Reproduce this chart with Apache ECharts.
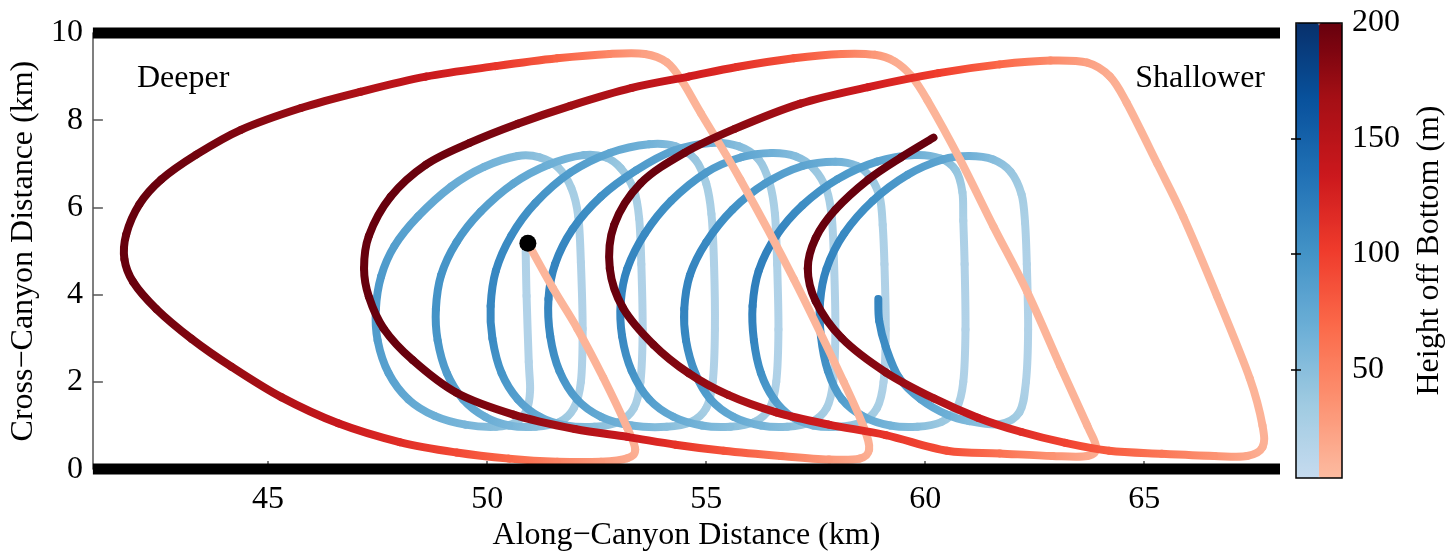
<!DOCTYPE html>
<html><head><meta charset="utf-8">
<script src="https://cdn.jsdelivr.net/npm/echarts@6/dist/echarts.min.js"></script>
<style>html,body{margin:0;padding:0;background:#fff}#c{width:1451px;height:557px}</style>
</head><body><div id="c"></div>
<script>
// ---------- data (km, km, m) ----------
const redX = [50.93,51.5,52.06,52.65,53.2,53.38,53.2,52.6,51.6,50.5,49.3,48.0,46.6,45.3,44.16,43.25,42.45,41.92,41.72,41.76,42.06,42.56,43.36,44.38,45.75,47.1,48.6,50.2,51.6,52.8,53.6,54.1,54.45,54.88,55.78,57.0,58.14,58.6,58.72,58.5,57.8,56.7,55.4,54.3,53.2,52.0,50.6,49.3,48.3,47.64,47.3,47.19,47.3,47.8,48.6,49.6,50.7,51.9,53.3,54.6,55.7,57.0,58.1,58.85,59.3,59.68,60.05,60.8,61.56,62.33,63.08,63.7,63.9,63.7,62.9,61.7,60.5,59.1,57.8,56.6,55.5,54.6,53.8,53.1,52.8,52.9,53.5,54.5,55.65,57.15,58.7,60.3,61.7,62.86,63.7,64.22,64.6,65.3,65.89,66.66,67.41,67.7,67.7,67.35,66.6,65.4,64.2,63.2,62.2,61.2,60.2,59.1,58.1,57.5,57.32,57.5,57.95,58.7,59.45,60.19];
const redY = [5.18,4.15,3.22,2.1,0.94,0.45,0.25,0.17,0.17,0.24,0.38,0.62,1.05,1.65,2.35,2.99,3.67,4.29,4.81,5.38,6.07,6.64,7.21,7.78,8.28,8.65,9.0,9.24,9.42,9.52,9.52,9.33,8.9,8.16,6.64,4.36,2.0,0.95,0.45,0.24,0.22,0.3,0.42,0.56,0.74,0.92,1.25,1.75,2.5,3.22,3.95,4.6,5.35,6.25,6.98,7.48,7.92,8.33,8.74,9.0,9.22,9.42,9.52,9.5,9.35,9.02,8.46,7.09,5.56,4.06,2.37,1.0,0.5,0.3,0.3,0.36,0.42,0.78,1.02,1.3,1.7,2.2,2.85,3.7,4.6,5.6,6.55,7.25,7.8,8.38,8.76,9.08,9.28,9.37,9.32,9.0,8.4,7.0,5.79,3.97,2.08,1.0,0.5,0.3,0.3,0.35,0.42,0.6,0.85,1.18,1.62,2.22,3.0,3.85,4.6,5.3,5.95,6.64,7.15,7.6];
const redH = [8,8,9,10,11,12,18,30,48,70,92,115,138,158,175,187,195,199,200,200,200,198,194,186,175,160,138,108,75,45,25,14,10,9,8,8,9,10,12,18,30,55,85,110,135,160,182,194,199,200,200,200,200,200,198,194,185,170,152,132,112,85,55,32,16,11,9,8,8,8,9,10,12,18,35,62,88,108,130,150,168,182,192,198,200,200,200,195,182,160,132,100,70,42,24,14,10,8,8,8,9,10,12,20,35,58,78,95,115,138,160,180,193,199,200,200,200,200,200,200];

const blueX = [50.88,50.9,50.95,50.98,50.9,50.65,50.2, 49.5,48.8,48.2,47.75,47.5,47.46, 47.58,47.88,48.42,49.18,49.93,50.7,51.2,51.62,51.92,52.08, 52.14,52.18,52.14,51.98,51.65,51.1, 50.5,49.95,49.45,49.08,48.87,48.83, 48.95,49.3,49.85,50.6,51.4,52.2,52.7,53.05,53.35,53.47, 53.52,53.55,53.5,53.35,53.0,52.45, 51.8,51.2,50.7,50.33,50.12,50.08, 50.2,50.55,51.1,51.9,52.8,53.7,54.3,54.75,55.0,55.12, 55.18,55.2,55.15,55.0,54.65,54.1, 53.3,52.6,52.05,51.65,51.44,51.4, 51.55,51.95,52.6,53.4,54.25,55.1,55.75,56.2,56.45,56.57, 56.62,56.65,56.6,56.45,56.1,55.55, 54.9,54.25,53.7,53.3,53.08,53.05, 53.2,53.6,54.2,55.0,55.8,56.5,57.05,57.45,57.75,57.87, 57.92,57.95,57.9,57.75,57.4,56.85, 56.25,55.62,55.1,54.75,54.54,54.5, 54.63,55.0,55.6,56.35,57.2,57.95,58.45,58.78,58.97,59.03, 59.07,59.1,59.05,58.9,58.55,58.0, 57.45,56.95,56.55,56.25,56.09,56.06, 56.2,56.6,57.2,58.0,58.9,59.75,60.35,60.7,60.85,60.87, 60.9,60.92,60.87,60.72,60.37,59.82, 59.2,58.6,58.1,57.78,57.62,57.6, 57.75,58.15,58.8,59.6,60.4,61.0,61.55,61.95,62.2,62.28, 62.32,62.35,62.3,62.15,61.7,61.0,60.5,59.9,59.4,59.1,58.95,58.93];
const blueY = [5.0,3.97,2.46,1.8,1.35,1.07,0.97, 1.02,1.22,1.6,2.2,2.95,3.67, 4.42,5.11,5.79,6.48,6.93,7.18,7.15,6.92,6.45,5.8, 4.74,3.22,2.0,1.4,1.08,0.97, 1.0,1.2,1.6,2.2,2.95,3.67, 4.45,5.2,5.9,6.55,6.98,7.2,7.15,6.9,6.4,5.75, 4.7,3.2,2.0,1.4,1.08,0.97, 1.0,1.2,1.6,2.2,3.0,3.74, 4.55,5.35,6.1,6.8,7.25,7.45,7.4,7.1,6.55,5.85, 4.7,3.2,2.0,1.4,1.08,0.97, 1.0,1.2,1.6,2.25,3.05,3.9, 4.7,5.5,6.25,6.85,7.3,7.48,7.4,7.1,6.55,5.85, 4.7,3.2,2.0,1.4,1.08,0.97, 1.0,1.2,1.6,2.25,3.05,3.83, 4.6,5.4,6.15,6.8,7.15,7.25,7.17,6.9,6.4,5.75, 4.7,3.2,2.0,1.4,1.08,0.97, 1.0,1.2,1.6,2.2,2.95,3.67, 4.45,5.2,5.95,6.55,6.95,7.05,6.95,6.65,6.2,5.6, 4.7,3.2,2.0,1.4,1.08,0.97, 1.0,1.2,1.6,2.2,2.95,3.74, 4.55,5.35,6.05,6.65,7.05,7.2,7.12,6.85,6.35,5.7, 4.7,3.2,2.0,1.4,1.08,0.97, 1.0,1.2,1.6,2.25,3.05,3.83, 4.6,5.4,6.15,6.75,7.1,7.18,7.1,6.82,6.3,5.65, 4.7,3.2,2.0,1.3,1.03,1.1,1.25,1.6,2.1,2.8,3.4,3.9];
const blueH = [22,20,20,22,28,38,50, 60,68,76,84,89,92, 92,88,80,72,64,56,47,38,30,25, 22,20,22,28,38,50, 60,70,80,90,97,100, 100,96,88,78,68,58,47,38,30,25, 22,20,22,28,38,50, 62,74,86,98,108,112, 112,108,100,90,78,64,52,40,30,25, 22,20,22,28,38,50, 62,75,88,100,110,115, 115,110,102,92,80,66,52,40,30,25, 22,20,22,28,38,50, 62,75,88,100,110,115, 115,110,102,92,80,66,52,40,30,25, 22,20,22,28,38,50, 62,75,88,100,110,115, 115,110,102,92,80,66,52,40,30,25, 22,20,22,28,38,50, 62,76,90,102,114,120, 120,115,106,95,82,68,54,42,32,25, 22,20,22,28,38,50, 62,75,88,100,110,115, 115,110,102,92,80,66,52,40,30,25, 22,20,22,30,42,55,68,82,96,106,112,115];

const startPoint = [50.93, 5.18];
const xTickValues = [45, 50, 55, 60, 65];
const cbTickValues = [50, 100, 150];
const cbLabelValues = [50, 100, 150, 200];
const xRange = [41, 68.1];
const yRange = [0, 10];
const yStep = 2;
const wallLevels = [0, 10];
const heightRange = [3, 200];
const bluesRamp = ['#c6dbef', '#9ecae1', '#6baed6', '#4292c6', '#2171b5', '#08519c', '#08306b'];
const redsRamp = ['#fcbba1', '#fc9272', '#fb6a4a', '#ef3b2c', '#cb181d', '#a50f15', '#67000d'];
const texts = { deeper: 'Deeper', shallower: 'Shallower', xName: 'Along\u2212Canyon Distance (km)', yName: 'Cross\u2212Canyon Distance (km)', cbName: 'Height off Bottom (m)' };

// ---------- build ----------
const FONT = '"Liberation Serif", "Times New Roman", serif';
const zip = (xs, ys, hs) => xs.map((x, i) => [x, ys[i], hs[i]]);
const redData = zip(redX, redY, redH);
const blueData = zip(blueX, blueY, blueH);

function trackRenderer(width) {
  return function (params, api) {
    const i = params.dataIndexInside, n = params.dataInsideLength;
    if (i >= n - 1) return null;
    const P = k => { k = Math.max(0, Math.min(n - 1, k)); return api.coord([api.value(0, k), api.value(1, k)]); };
    const p0 = P(i - 1), p1 = P(i), p2 = P(i + 1), p3 = P(i + 2);
    const c1 = api.visual('color', i), c2 = api.visual('color', i + 1);
    return {
      type: 'bezierCurve',
      shape: {
        x1: p1[0], y1: p1[1], x2: p2[0], y2: p2[1],
        cpx1: p1[0] + (p2[0] - p0[0]) / 6, cpy1: p1[1] + (p2[1] - p0[1]) / 6,
        cpx2: p2[0] - (p3[0] - p1[0]) / 6, cpy2: p2[1] - (p3[1] - p1[1]) / 6
      },
      style: {
        fill: null,
        stroke: new echarts.graphic.LinearGradient(p1[0], p1[1], p2[0], p2[1], [{ offset: 0, color: c1 }, { offset: 1, color: c2 }], true),
        lineWidth: width, lineCap: 'round'
      },
      silent: true
    };
  };
}

const chart = echarts.init(document.getElementById('c'), null, { renderer: 'canvas' });
const labelStyle = { fontFamily: FONT, fontSize: 32, color: '#000' };

chart.setOption({
  animation: false,
  backgroundColor: '#fff',
  grid: [
    { left: 92, top: 33, width: 1188, height: 438, containLabel: false },
    { left: 1296, top: 23, width: 46, height: 455, show: true, borderColor: '#000', borderWidth: 1.5, backgroundColor: 'transparent', z: 10 }
  ],
  xAxis: [
    {
      gridIndex: 0, type: 'value', min: xRange[0], max: xRange[1],
      axisLine: { show: false },
      axisTick: { inside: true, length: 8, customValues: xTickValues, lineStyle: { color: '#555', width: 1.5 } },
      axisLabel: Object.assign({ customValues: xTickValues, margin: 14 }, labelStyle),
      splitLine: { show: false },
      name: texts.xName, nameLocation: 'middle', nameGap: 48,
      nameTextStyle: labelStyle
    },
    { gridIndex: 1, type: 'value', min: 0, max: 1, show: false }
  ],
  yAxis: [
    {
      gridIndex: 0, type: 'value', min: yRange[0], max: yRange[1], interval: yStep,
      axisLine: { show: true, lineStyle: { color: '#555', width: 1.5 } },
      axisTick: { inside: true, length: 10, lineStyle: { color: '#555', width: 1.5 } },
      axisLabel: Object.assign({ margin: 10 }, labelStyle),
      splitLine: { show: false },
      name: texts.yName, nameLocation: 'middle', nameGap: 52, nameRotate: 90,
      nameTextStyle: labelStyle
    },
    {
      gridIndex: 1, type: 'value', min: heightRange[0], max: heightRange[1], position: 'right', z: 12,
      axisLine: { show: false },
      axisTick: { inside: true, length: 5, customValues: cbTickValues, lineStyle: { color: '#000', width: 1.5 } },
      axisLabel: Object.assign({ customValues: cbLabelValues, margin: 10 }, labelStyle),
      splitLine: { show: false },
      name: texts.cbName, nameLocation: 'middle', nameGap: 72, nameRotate: 90,
      nameTextStyle: labelStyle
    },
    {
      gridIndex: 1, type: 'value', min: heightRange[0], max: heightRange[1], position: 'left', z: 12,
      axisLine: { show: false },
      axisTick: { inside: true, length: 5, customValues: cbTickValues, lineStyle: { color: '#000', width: 1.5 } },
      axisLabel: { show: false },
      splitLine: { show: false }
    }
  ],
  visualMap: [
    {
      type: 'continuous', seriesIndex: 0, dimension: 2, min: heightRange[0], max: heightRange[1],
      inRange: { color: bluesRamp }, calculable: false, showLabel: false, text: null,
      left: 1296, top: 23, itemWidth: 23, itemHeight: 455, padding: 0, hoverLink: false
    },
    {
      type: 'continuous', seriesIndex: 1, dimension: 2, min: heightRange[0], max: heightRange[1],
      inRange: { color: redsRamp }, calculable: false, showLabel: false, text: null,
      left: 1319, top: 23, itemWidth: 23, itemHeight: 455, padding: 0, hoverLink: false
    }
  ],
  graphic: [
    { type: 'text', x: 137, y: 79, style: { text: texts.deeper, font: '32px ' + FONT, fill: '#000', align: 'left', verticalAlign: 'middle', textAlign: 'left', textVerticalAlign: 'middle' }, z: 20 },
    { type: 'text', x: 1265, y: 79, style: { text: texts.shallower, font: '32px ' + FONT, fill: '#000', align: 'right', verticalAlign: 'middle', textAlign: 'right', textVerticalAlign: 'middle' }, z: 20 }
  ],
  series: [
    {
      type: 'custom', name: 'blue', xAxisIndex: 0, yAxisIndex: 0, data: blueData,
      encode: { x: 0, y: 1 }, renderItem: trackRenderer(8), clip: false, silent: true, z: 3
    },
    {
      type: 'custom', name: 'red', xAxisIndex: 0, yAxisIndex: 0, data: redData,
      encode: { x: 0, y: 1 }, renderItem: trackRenderer(8), clip: false, silent: true, z: 4
    },
    {
      type: 'line', xAxisIndex: 0, yAxisIndex: 0, data: xRange.map(x => [x, wallLevels[0]]),
      symbol: 'none', clip: false, silent: true, lineStyle: { color: '#000', width: 11, cap: 'butt' }, z: 5
    },
    {
      type: 'line', xAxisIndex: 0, yAxisIndex: 0, data: xRange.map(x => [x, wallLevels[1]]),
      symbol: 'none', clip: false, silent: true, lineStyle: { color: '#000', width: 11, cap: 'butt' }, z: 5
    },
    {
      type: 'scatter', xAxisIndex: 0, yAxisIndex: 0, data: [startPoint],
      symbol: 'circle', symbolSize: 17, itemStyle: { color: '#000', opacity: 1 }, silent: true, z: 6
    }
  ]
});
</script>
</body></html>
